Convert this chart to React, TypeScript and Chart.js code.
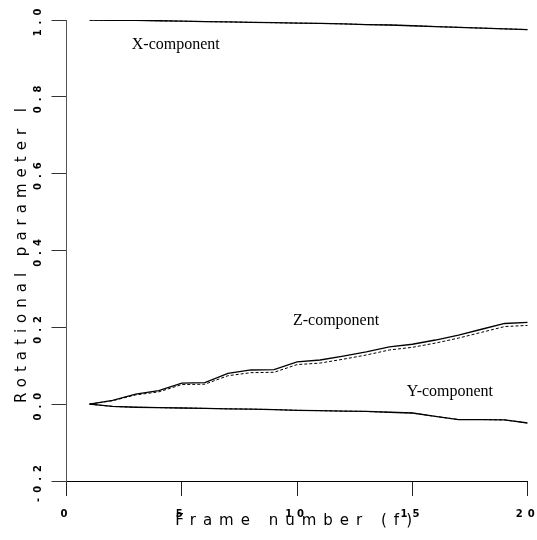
import React, { useEffect, useRef } from 'react';
import { Chart, registerables } from 'chart.js';

Chart.register(...registerables);

// ---- data ----
const frames = [1, 2, 3, 4, 5, 6, 7, 8, 9, 10, 11, 12, 13, 14, 15, 16, 17, 18, 19, 20];

const xCompSolid = [1.0, 0.999, 0.999, 0.998, 0.997, 0.996, 0.995, 0.994, 0.993, 0.992, 0.991, 0.99, 0.988, 0.987, 0.985, 0.983, 0.981, 0.979, 0.977, 0.975];
const xCompDashed = [1.0, 0.999, 0.999, 0.998, 0.997, 0.996, 0.995, 0.994, 0.993, 0.992, 0.991, 0.99, 0.988, 0.987, 0.985, 0.983, 0.981, 0.979, 0.977, 0.975];

const yCompSolid = [0.0, -0.006, -0.008, -0.009, -0.01, -0.011, -0.012, -0.013, -0.014, -0.016, -0.017, -0.018, -0.019, -0.021, -0.023, -0.032, -0.04, -0.04, -0.041, -0.049];
const yCompDashed = [0.0, -0.006, -0.008, -0.009, -0.01, -0.011, -0.012, -0.013, -0.014, -0.016, -0.017, -0.018, -0.019, -0.021, -0.023, -0.032, -0.04, -0.04, -0.041, -0.049];

const zCompSolid = [0.0, 0.01, 0.026, 0.035, 0.055, 0.056, 0.08, 0.089, 0.09, 0.11, 0.115, 0.125, 0.136, 0.149, 0.156, 0.167, 0.18, 0.195, 0.21, 0.213];
const zCompDashed = [0.0, 0.009, 0.024, 0.032, 0.051, 0.052, 0.074, 0.082, 0.083, 0.103, 0.107, 0.117, 0.128, 0.141, 0.148, 0.159, 0.172, 0.187, 0.202, 0.205];

const xTickValues = [0, 5, 10, 15, 20];
const yTickValues = [-0.2, 0.0, 0.2, 0.4, 0.6, 0.8, 1.0];

const xAxisTitle = 'Frame number (f)';
const yAxisTitle = 'Rotational parameter l';

const noteTexts = ['X-component', 'Z-component', 'Y-component'];
// anchor positions (in data units) of the three notes
const noteFrames = [2.83, 9.82, 14.76];
const noteValues = [0.935, 0.216, 0.031];

const toPoints = (vals: number[]) => frames.map((f, i) => ({ x: f, y: vals[i] }));

export default function App() {
  const ref = useRef<HTMLCanvasElement | null>(null);

  useEffect(() => {
    document.body.style.margin = '0';
    const canvas = ref.current;
    if (!canvas) return;

    const tickFont = { family: '"DejaVu Sans"', size: 10, weight: 'bold' as const };

    const solid = (label: string, vals: number[]) => ({
      label,
      data: toPoints(vals),
      borderColor: '#000',
      borderWidth: 1.3,
      pointRadius: 0,
      tension: 0,
      fill: false,
    });
    const dashed = (label: string, vals: number[]) => ({
      label,
      data: toPoints(vals),
      borderColor: '#000',
      borderWidth: 1,
      borderDash: [3, 2],
      pointRadius: 0,
      tension: 0,
      fill: false,
    });

    const decor = {
      id: 'decor',
      beforeDraw(chart: any) {
        chart.ctx.letterSpacing = '5px';
      },
      afterDraw(chart: any) {
        const ctx = chart.ctx as CanvasRenderingContext2D;
        const xs = chart.scales.x;
        const ys = chart.scales.y;
        ctx.save();
        ctx.fillStyle = '#000';
        // x axis title
        (ctx as any).letterSpacing = '7px';
        ctx.font = '15px "DejaVu Sans"';
        ctx.textAlign = 'center';
        ctx.textBaseline = 'middle';
        ctx.fillText(xAxisTitle, (xs.left + xs.right) / 2 + 0, 521);
        // y axis title
        (ctx as any).letterSpacing = '6px';
        ctx.save();
        ctx.translate(22, (ys.top + ys.bottom) / 2 + 2);
        ctx.rotate(-Math.PI / 2);
        ctx.fillText(yAxisTitle, 0, 0);
        ctx.restore();
        // notes
        (ctx as any).letterSpacing = '0px';
        ctx.font = '16px "Liberation Serif"';
        ctx.textAlign = 'left';
        for (let i = 0; i < noteTexts.length; i++) {
          ctx.fillText(noteTexts[i], xs.getPixelForValue(noteFrames[i]), ys.getPixelForValue(noteValues[i]));
        }
        ctx.restore();
      },
    };

    const chart = new Chart(canvas, {
      type: 'line',
      data: {
        datasets: [
          solid('X-component', xCompSolid),
          dashed('X-component (dashed)', xCompDashed),
          solid('Y-component', yCompSolid),
          dashed('Y-component (dashed)', yCompDashed),
          solid('Z-component', zCompSolid),
          dashed('Z-component (dashed)', zCompDashed),
        ],
      },
      options: {
        responsive: false,
        animation: false,
        layout: { padding: { top: 20, right: 9.3, left: 0, bottom: 0 } },
        plugins: {
          legend: { display: false },
          tooltip: { enabled: false },
        },
        scales: {
          x: {
            type: 'linear',
            min: 0,
            max: 20,
            afterBuildTicks: (s: any) => {
              s.ticks = xTickValues.map((v) => ({ value: v }));
            },
            afterFit: (s: any) => {
              s.height = 59;
              s.paddingLeft = 0;
              s.paddingRight = 0;
            },
            ticks: {
              color: '#000',
              font: tickFont,
              padding: 12,
              maxRotation: 0,
              minRotation: 0,
              autoSkip: false,
              callback: (v: any) => String(v),
            },
            grid: { drawOnChartArea: false, drawTicks: true, tickLength: 15, color: '#222', lineWidth: 1 },
            border: { display: true, color: '#000', width: 1 },
          },
          y: {
            type: 'linear',
            min: -0.2,
            max: 1.0,
            afterBuildTicks: (s: any) => {
              s.ticks = yTickValues.map((v) => ({ value: v }));
            },
            afterFit: (s: any) => {
              s.width = 66.5;
              s.paddingTop = 0;
              s.paddingBottom = 0;
            },
            ticks: {
              color: '#000',
              font: tickFont,
              padding: 2,
              minRotation: 90,
              maxRotation: 90,
              crossAlign: 'center',
              autoSkip: false,
              callback: (v: any) => Number(v).toFixed(1),
            },
            grid: { drawOnChartArea: false, drawTicks: true, tickLength: 15, color: '#333', lineWidth: 1 },
            border: { display: true, color: '#555', width: 1 },
          },
        },
      },
      plugins: [decor],
    } as any);

    return () => chart.destroy();
  }, []);

  return (
    <div style={{ width: 537, height: 540 }}>
      <canvas ref={ref} width={537} height={540} />
    </div>
  );
}
